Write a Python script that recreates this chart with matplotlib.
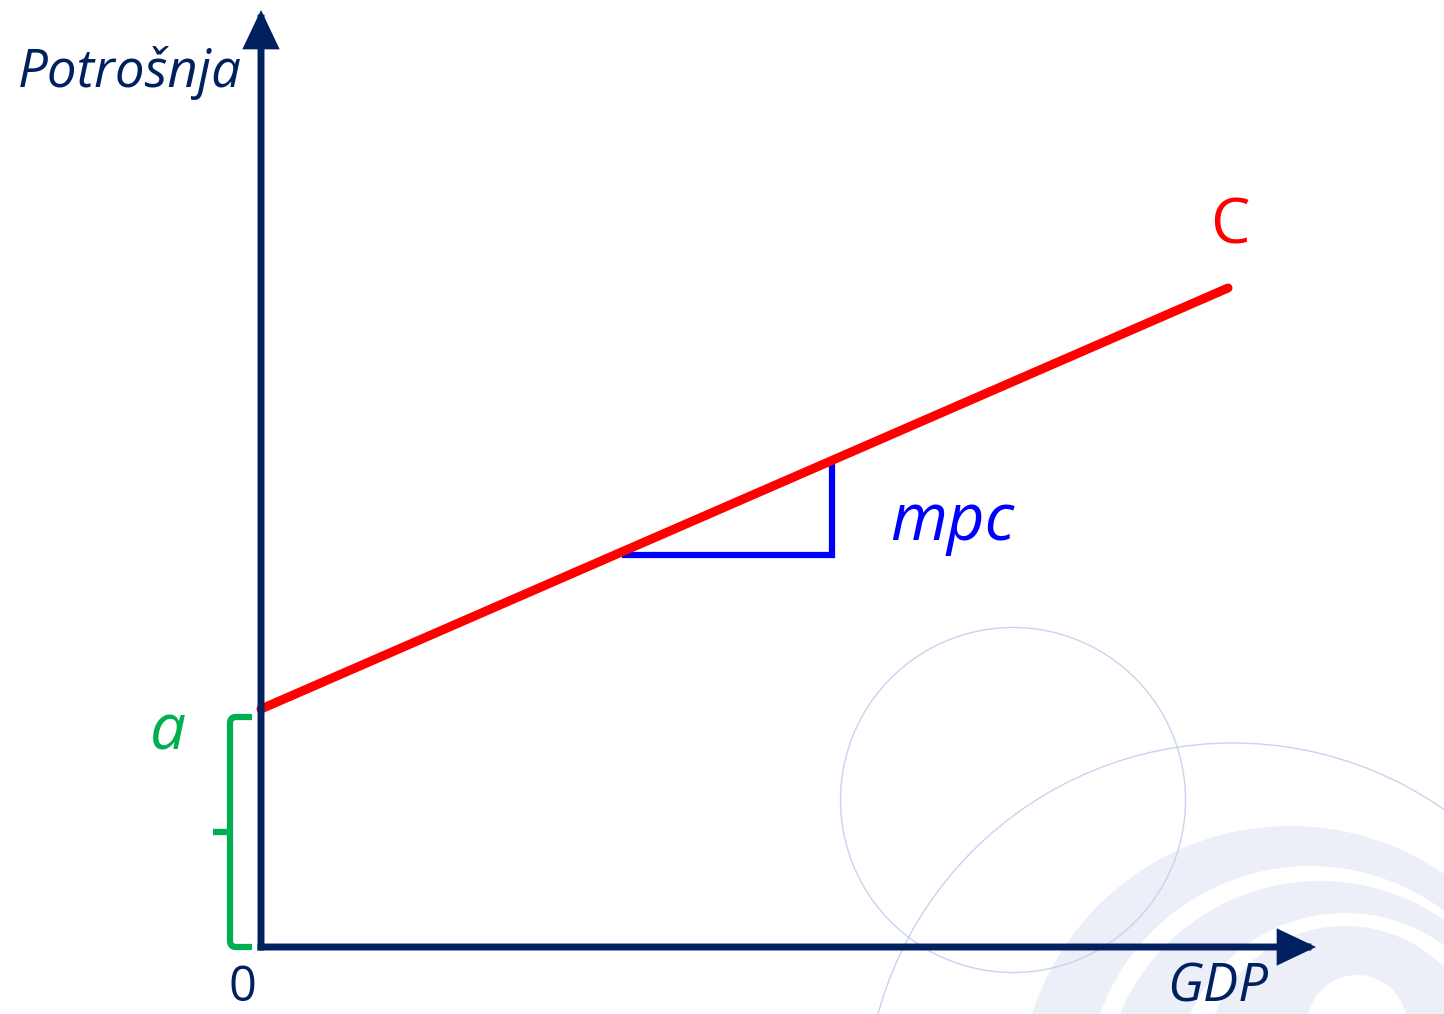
import matplotlib
matplotlib.use("Agg")
import matplotlib.pyplot as plt
from matplotlib.patches import FancyArrowPatch, Circle, PathPatch
from matplotlib.path import Path

# ---- data (units: 1 unit = 10 px in the reference) ----
gdp = [0.0, 96.7]            # GDP extent of the consumption line
consumption = [23.8, 65.9]   # C = a + mpc * GDP at those GDP values
autonomous_a = 23.8          # intercept a
tri_x = [36.1, 57.1, 57.1]   # mpc slope triangle
tri_y = [39.2, 39.2, 48.6]
x_axis_end = 105.5
y_axis_end = 93.7

labels = {"y": "Potrošnja", "x": "GDP", "origin": "0", "line": "C",
          "slope": "mpc", "intercept": "a"}

NAVY = "#002060"
RED = "#FF0000"
BLUE = "#0000FF"
GREEN = "#00B050"
BAND = "#ECEEF8"
RING = "#C8D4EE"
FONT = "Open Sans"

fig = plt.figure(figsize=(14.44, 10.14), dpi=100)
ax = fig.add_axes([0, 0, 1, 1])
ax.set_xlim(-26.1, 118.3)
ax.set_ylim(-6.7, 94.7)
ax.axis("off")

# ---- decorative background ----
for (cx, cy, r, col) in [
    (102.9, -15.0, 27.1, BAND), (104.9, -14.2, 22.3, "white"),
    (105.9, -15.1, 21.7, BAND), (108.4, -13.5, 16.9, "white"),
    (108.4, -11.9, 14.0, BAND), (109.6, -7.8, 5.0, "white"),
]:
    ax.add_patch(Circle((cx, cy), r, facecolor=col, edgecolor="none", zorder=0))
for (cx, cy, r) in [(75.2, 14.7, 17.25), (97.2, -16.4, 36.8)]:
    ax.add_patch(Circle((cx, cy), r, facecolor="none", edgecolor=RING, lw=1.0, zorder=1))

# ---- axes with arrows ----
style = "-|>,head_length=20,head_width=9.5"
for end in [(x_axis_end, 0), (0, y_axis_end)]:
    ax.add_patch(FancyArrowPatch((0, 0), end, arrowstyle=style, mutation_scale=1,
                                 lw=5, color=NAVY, shrinkA=0, shrinkB=0,
                                 joinstyle="miter", capstyle="projecting", zorder=5))

# ---- consumption line ----
ax.plot(gdp, consumption, color=RED, lw=6.5, solid_capstyle="round", zorder=4)

# ---- mpc triangle ----
ax.plot(tri_x, tri_y, color=BLUE, lw=4.5, solid_capstyle="butt",
        solid_joinstyle="miter", zorder=3)

# ---- brace for a ----
top = autonomous_a - 0.8
bot = 0.0
xv, xe, r = -3.1, -0.9, 0.6
mid = (top + bot) / 2
verts = [(xe, top), (xv + r, top), (xv, top), (xv, top - r),
         (xv, bot + r), (xv, bot), (xv + r, bot), (xe, bot)]
codes = [Path.MOVETO, Path.LINETO, Path.CURVE3, Path.CURVE3,
         Path.LINETO, Path.CURVE3, Path.CURVE3, Path.LINETO]
ax.add_patch(PathPatch(Path(verts, codes), facecolor="none", edgecolor=GREEN,
                       lw=4.5, capstyle="butt", joinstyle="round", zorder=3))
ax.plot([-4.8, xv], [mid, mid], color=GREEN, lw=4.5, solid_capstyle="butt", zorder=3)

# ---- labels ----
ax.text(-13.1, 86.0, labels["y"], color=NAVY, fontsize=38, family=FONT,
        style="italic", ha="center", va="baseline")
ax.text(95.7, -5.4, labels["x"], color=NAVY, fontsize=38, family=FONT,
        style="italic", ha="center", va="baseline")
ax.text(-1.9, -5.4, labels["origin"], color=NAVY, fontsize=35, family=FONT,
        ha="center", va="baseline")
ax.text(96.9, 70.3, labels["line"], color=RED, fontsize=45, family=FONT,
        ha="center", va="baseline")
ax.text(62.9, 40.7, labels["slope"], color=BLUE, fontsize=47, family=FONT,
        style="italic", ha="left", va="baseline")
ax.text(-9.3, 19.7, labels["intercept"], color=GREEN, fontsize=46, family=FONT,
        style="italic", ha="center", va="baseline")

fig.savefig("out.png", dpi=100)
